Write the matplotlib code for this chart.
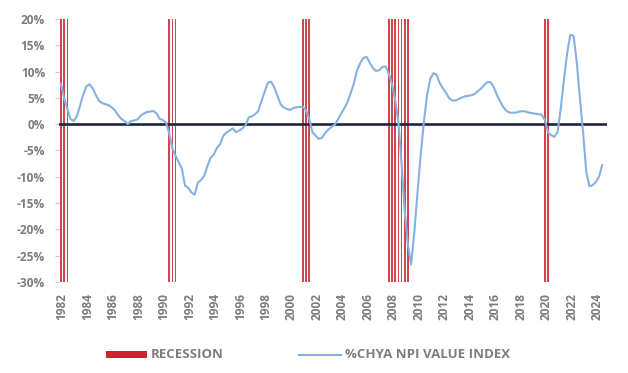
import numpy as np
import matplotlib
matplotlib.use("Agg")
import matplotlib.pyplot as plt
from matplotlib.patches import Rectangle
from matplotlib.lines import Line2D

plt.rcParams['font.family'] = ['Open Sans', 'DejaVu Sans']

# Quarterly year-over-year change of the NPI value index (%), 1982Q1 .. 2024Q3
start_year = 1982
npi_yoy = [
    7.7, 5.0, 3.0, 1.0,        # 1982
    0.6, 1.5, 3.5, 5.6,        # 1983
    7.2, 7.6, 6.8, 5.5,        # 1984
    4.4, 4.0, 3.8, 3.6,        # 1985
    3.2, 2.6, 1.7, 1.0,        # 1986
    0.6, 0.0, 0.6, 0.7,        # 1987
    0.9, 1.6, 2.0, 2.3,        # 1988
    2.4, 2.5, 2.1, 1.0,        # 1989
    0.8, 0.3, -1.7, -4.6,      # 1990
    -6.0, -7.2, -8.5, -11.7,   # 1991
    -12.1, -13.0, -13.4, -11.1,  # 1992
    -10.6, -9.8, -8.0, -6.4,   # 1993
    -5.8, -4.5, -3.8, -2.2,    # 1994
    -1.6, -1.2, -0.8, -1.5,    # 1995
    -1.2, -0.8, -0.2, 1.3,     # 1996
    1.5, 1.9, 2.5, 4.4,        # 1997
    6.2, 7.9, 8.1, 7.0,        # 1998
    5.4, 3.8, 3.2, 2.9,        # 1999
    2.7, 3.1, 3.2, 3.3,        # 2000
    3.3, 2.6, 1.0, -1.5,       # 2001
    -2.2, -2.8, -2.6, -1.7,    # 2002
    -1.0, -0.5, -0.1, 0.9,     # 2003
    2.0, 3.0, 4.2, 5.9,        # 2004
    7.7, 10.2, 11.6, 12.6,     # 2005
    12.8, 11.7, 10.7, 10.1,    # 2006
    10.3, 10.9, 11.0, 9.6,     # 2007
    7.6, 4.6, 0.4, -7.6,       # 2008
    -16.6, -23.0, -26.7, -20.5,  # 2009
    -13.0, -5.8, 0.4, 5.5,     # 2010
    8.6, 9.7, 9.4, 7.8,        # 2011
    6.8, 5.9, 4.9, 4.5,        # 2012
    4.5, 4.8, 5.1, 5.3,        # 2013
    5.4, 5.5, 5.8, 6.3,        # 2014
    6.8, 7.5, 8.0, 8.0,        # 2015
    7.0, 5.5, 4.3, 3.2,        # 2016
    2.5, 2.2, 2.2, 2.2,        # 2017
    2.4, 2.5, 2.4, 2.2,        # 2018
    2.1, 2.0, 1.9, 1.8,        # 2019
    0.8, -1.6, -2.1, -2.4,     # 2020
    -1.5, 3.0, 8.5, 13.5,      # 2021
    17.0, 16.8, 12.0, 5.0,     # 2022
    -1.5, -9.0, -11.8, -11.6,  # 2023
    -11.0, -10.0, -7.8,        # 2024
]

# Recession quarters (decimal year of quarter start)
recession_quarters = [
    1982.0, 1982.25, 1982.5,
    1990.5, 1990.75, 1991.0,
    2001.0, 2001.25, 2001.5,
    2007.75, 2008.0, 2008.25, 2008.5, 2008.75, 2009.0, 2009.25,
    2020.0, 2020.25,
]

tick_years = list(range(1982, 2025, 2))
y_ticks = [20, 15, 10, 5, 0, -5, -10, -15, -20, -25, -30]

series_label = "%CHYA NPI VALUE INDEX"
recession_label = "RECESSION"

line_color = '#86b0e0'
rec_color = '#c8262e'
zero_color = '#1c2640'
text_color = '#7d7d7d'

t = start_year + np.arange(len(npi_yoy)) * 0.25

fig = plt.figure(figsize=(6.28, 3.73), dpi=100)
ax = fig.add_axes([59/628, 1 - 282/373, (607-59)/628, (282-19)/373])

ymin, ymax = -30, 20
ax.bar(recession_quarters, ymax - ymin, bottom=ymin, width=0.12,
       color=rec_color, alpha=0.85, linewidth=0, zorder=1)
ax.axhline(0, color=zero_color, linewidth=1.9, zorder=2)
ax.plot(t, npi_yoy, color=line_color, linewidth=1.5, zorder=3)

ax.set_ylim(ymin, ymax)
ax.set_xlim(1981.85, 2024.88)

ax.set_yticks(y_ticks)
ax.set_yticklabels([f"{v}%" for v in y_ticks])
ax.set_xticks([y + 0.1 for y in tick_years])
ax.set_xticklabels([str(y) for y in tick_years], rotation=90)

for s in ax.spines.values():
    s.set_visible(False)

ax.tick_params(axis='y', length=3, width=0.8, color='#c8c8c8', pad=7,
               labelsize=8.6, labelcolor=text_color)
ax.tick_params(axis='x', length=0, pad=8, labelsize=8.6, labelcolor=text_color)
for lab in ax.get_xticklabels() + ax.get_yticklabels():
    lab.set_fontweight('bold')

# Legend drawn below the plot
ly = 1 - 354.5/373
fig.patches.append(Rectangle((106/628, ly - 3.5/373), 41/628, 7/373,
                             transform=fig.transFigure, facecolor=rec_color,
                             edgecolor='none'))
fig.text(151/628, ly, recession_label, color=text_color, fontsize=9.5,
         fontweight='bold', va='center', ha='left')
fig.lines.append(Line2D([299/628, 341/628], [ly, ly], transform=fig.transFigure,
                        color=line_color, linewidth=1.5))
fig.text(345/628, ly, series_label, color=text_color, fontsize=9.5,
         fontweight='bold', va='center', ha='left')

fig.savefig("out.png", dpi=100)
